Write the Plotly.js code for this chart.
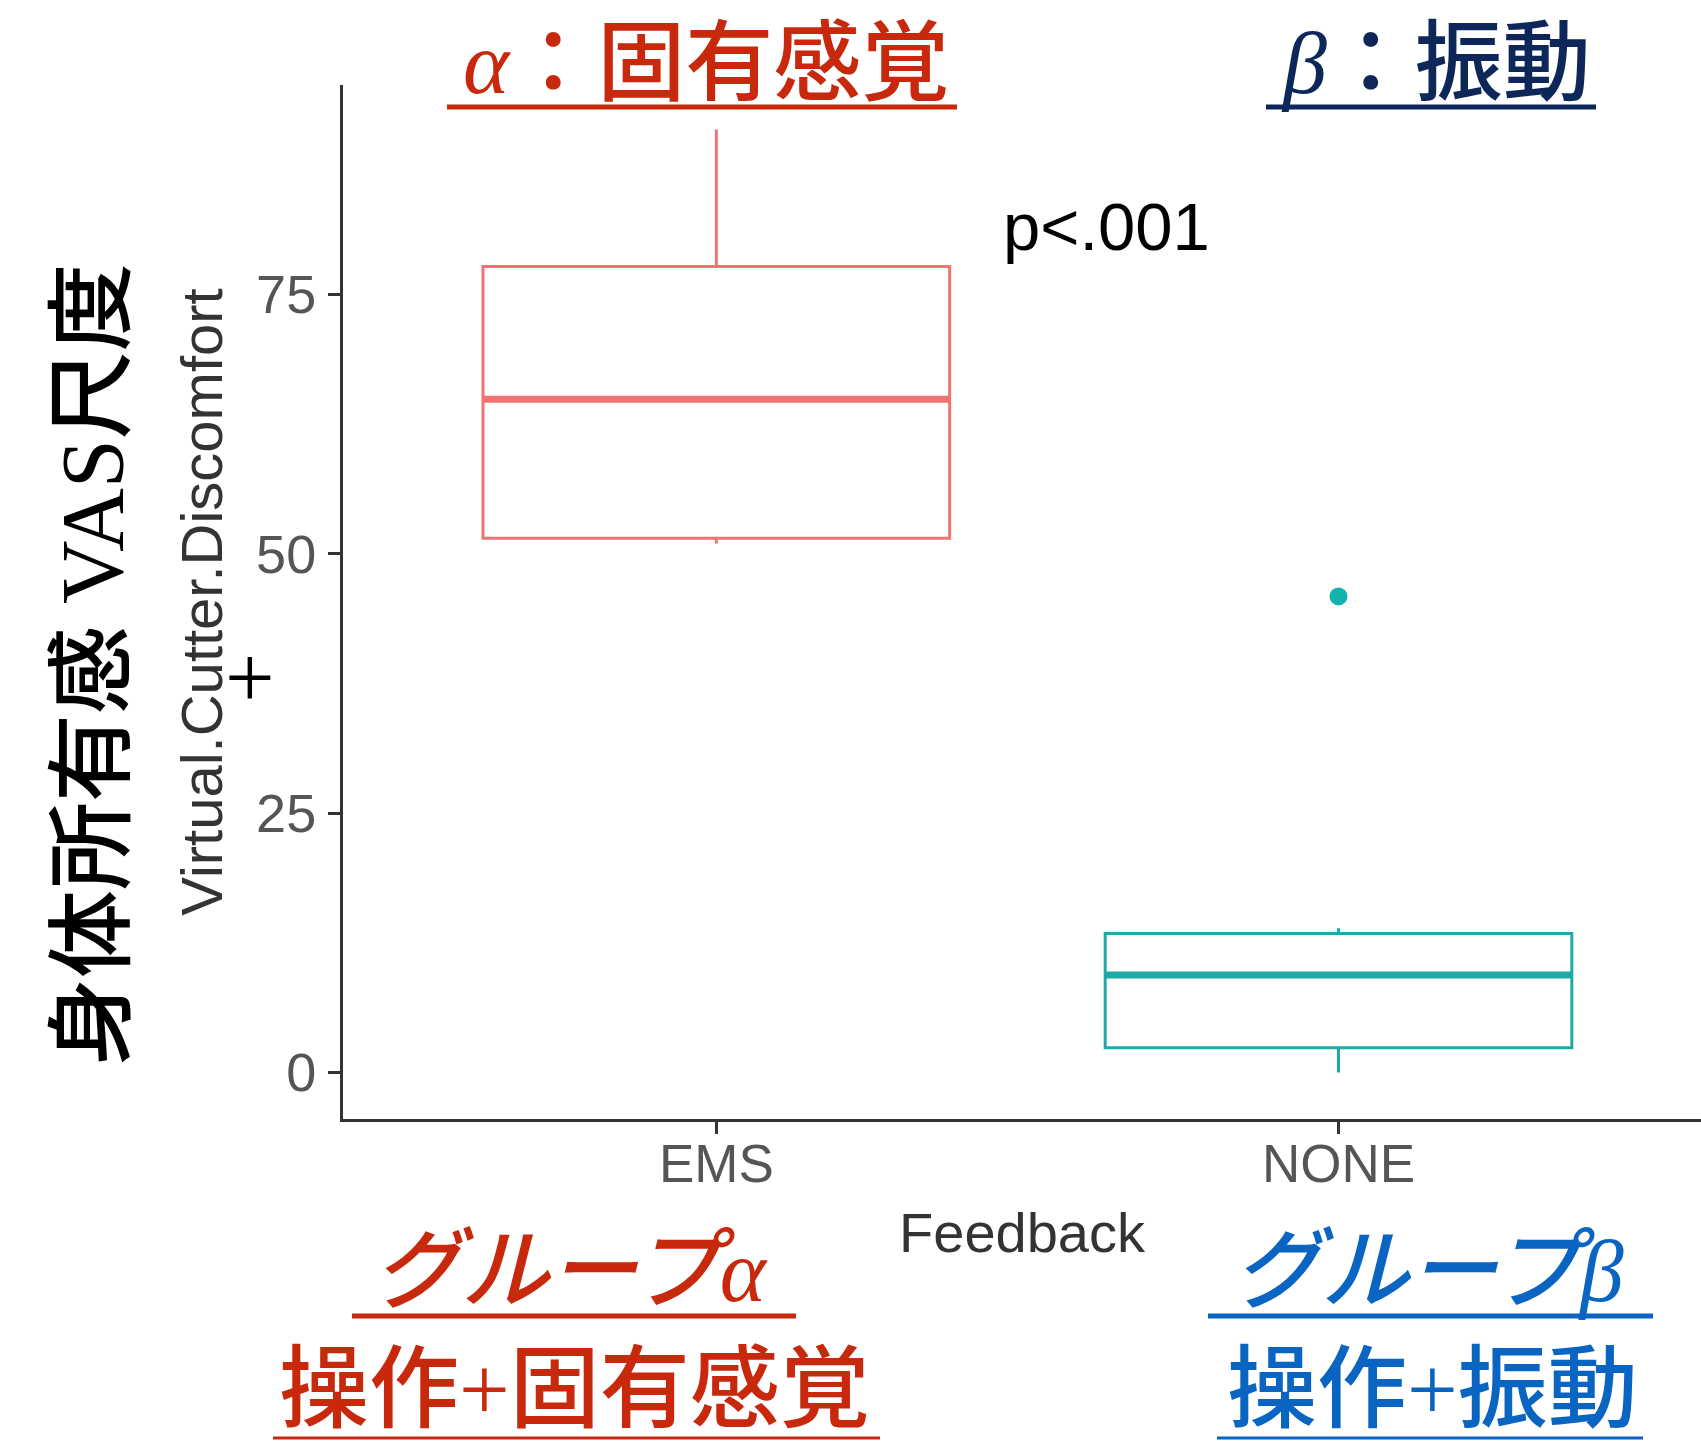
<!DOCTYPE html>
<html>
<head>
<meta charset="utf-8">
<script src="https://cdn.plot.ly/plotly-3.0.1.min.js"></script>
<style>
html, body { margin: 0; padding: 0; background: #ffffff; }
#chart { width: 1701px; height: 1453px; }
</style>
</head>
<body>
<div id="chart"></div>
<script>
// ---------------- data ----------------
const categories = ['EMS', 'NONE'];
const lowerWhisker = [51.0, 0.0];
const q1Values = [51.5, 2.4];
const medianValues = [64.9, 9.4];
const q3Values = [77.7, 13.4];
const upperWhisker = [90.9, 13.9];
const outlierCategory = ['NONE'];
const outlierValues = [45.9];
const yTickValues = [0, 25, 50, 75];
const yTickLabels = ['0', '25', '50', '75'];
const xAxisTitle = 'Feedback';
const yAxisTitle = 'Virtual.Cutter.Discomfort';
const pValueText = 'p<.001';
const leftTitle = '身体所有感 VAS尺度';
const topTitleA = '<i>α</i>：固有感覚';
const topTitleB = '<i>β</i>：振動';
const groupLabelA = 'グループα';
const groupLabelB = 'グループβ';
const conditionLabelA = '操作+固有感覚';
const conditionLabelB = '操作+振動';

// ---------------- styles ----------------
const boxColors = ['#F07474', '#1FA9A6'];
const outlierColor = '#12B3AE';
const red = '#C8280C';
const navy = '#0C2758';
const blue = '#0A64C2';
const cjkFamily = "'Liberation Serif', 'Noto Sans CJK JP', serif";

// plot area in pixels
const W = 1701, H = 1453;
const L = 343, R = 1701, T = 85, B = 1119;
const px = v => (v - L) / (R - L);
const py = v => (B - v) / (B - T);

const traces = [];
categories.forEach((cat, i) => {
  traces.push({
    type: 'box',
    x: [cat],
    q1: [q1Values[i]],
    median: [medianValues[i]],
    q3: [q3Values[i]],
    lowerfence: [lowerWhisker[i]],
    upperfence: [upperWhisker[i]],
    width: 0.75,
    whiskerwidth: 0,
    boxpoints: false,
    line: { color: boxColors[i], width: 3 },
    fillcolor: 'rgba(255,255,255,0)',
    hoverinfo: 'skip',
    showlegend: false
  });
  // thicker median line (degenerate box at the median)
  traces.push({
    type: 'box',
    x: [cat],
    q1: [medianValues[i]],
    median: [medianValues[i]],
    q3: [medianValues[i]],
    lowerfence: [medianValues[i]],
    upperfence: [medianValues[i]],
    width: 0.75,
    whiskerwidth: 0,
    boxpoints: false,
    line: { color: boxColors[i], width: 7 },
    fillcolor: 'rgba(255,255,255,0)',
    hoverinfo: 'skip',
    showlegend: false
  });
});
traces.push({
  type: 'scatter',
  mode: 'markers',
  x: outlierCategory,
  y: outlierValues,
  marker: { color: outlierColor, size: 18 },
  hoverinfo: 'skip',
  showlegend: false
});

function ann(text, x, y, size, color, extra) {
  return Object.assign({
    text: text, xref: 'paper', yref: 'paper', x: px(x), y: py(y),
    xanchor: 'center', yanchor: 'middle', showarrow: false,
    font: { family: cjkFamily, size: size, color: color, weight: 500 }
  }, extra || {});
}
function uline(x0, x1, y, w, color) {
  return { type: 'line', xref: 'paper', yref: 'paper',
    x0: px(x0), x1: px(x1), y0: py(y), y1: py(y),
    line: { color: color, width: w } };
}

const annotations = [
  ann(topTitleA, 706, 63, 88, red),
  ann(topTitleB, 1436, 63, 88, navy),
  ann(pValueText, 1106, 226, 67, '#000000', { font: { family: "'Liberation Sans', Arial, sans-serif", size: 67, color: '#000000' } }),
  ann('+', 250, 677, 88, '#000000', { font: { family: "'Liberation Serif', serif", size: 88, color: '#000000' } }),
  ann(leftTitle, 92, 665, 88, '#000000', { textangle: -90 }),
  ann(groupLabelA, 570, 1271, 88, red, { font: { family: cjkFamily, size: 88, color: red, style: 'italic', weight: 500 } }),
  ann(conditionLabelA, 574, 1389, 90, red),
  ann(groupLabelB, 1428, 1271, 88, blue, { font: { family: cjkFamily, size: 88, color: blue, style: 'italic', weight: 500 } }),
  ann(conditionLabelB, 1432, 1389, 90, blue)
];

const shapes = [
  uline(447, 957, 107, 5, red),
  uline(1266, 1596, 107, 5, navy),
  uline(352, 796, 1316, 5, red),
  uline(273, 880, 1438, 3, red),
  uline(1208, 1653, 1316, 5, blue),
  uline(1217, 1643, 1438, 3, blue)
];

const layout = {
  width: W, height: H,
  margin: { l: L, r: W - R, t: T, b: H - B, pad: 0 },
  paper_bgcolor: '#ffffff',
  plot_bgcolor: '#ffffff',
  showlegend: false,
  boxmode: 'overlay',
  font: { family: "'Liberation Sans', Arial, sans-serif" },
  xaxis: {
    type: 'category',
    categoryorder: 'array',
    categoryarray: categories,
    range: [-0.6, 1.5826],
    showline: true, linecolor: '#333333', linewidth: 3,
    ticks: 'outside', ticklen: 12, tickwidth: 3, tickcolor: '#333333',
    tickfont: { family: "'Liberation Sans', Arial, sans-serif", size: 53, color: '#555555' },
    ticklabelstandoff: -16,
    showgrid: false, zeroline: false, automargin: false, fixedrange: true,
    title: { text: xAxisTitle, font: { family: "'Liberation Sans', Arial, sans-serif", size: 56, color: '#333333' }, standoff: 22 }
  },
  yaxis: {
    range: [-4.48, 95.2],
    tickmode: 'array', tickvals: yTickValues, ticktext: yTickLabels,
    showline: true, linecolor: '#333333', linewidth: 3,
    ticks: 'outside', ticklen: 12, tickwidth: 3, tickcolor: '#333333',
    tickfont: { family: "'Liberation Sans', Arial, sans-serif", size: 54, color: '#555555' },
    ticklabelstandoff: 1,
    showgrid: false, zeroline: false, automargin: false, fixedrange: true,
    title: { text: yAxisTitle, font: { family: "'Liberation Sans', Arial, sans-serif", size: 58, color: '#333333' }, standoff: 15 }
  },
  annotations: annotations,
  shapes: shapes
};

Plotly.newPlot('chart', traces, layout, { staticPlot: true, displayModeBar: false });
</script>
</body>
</html>
